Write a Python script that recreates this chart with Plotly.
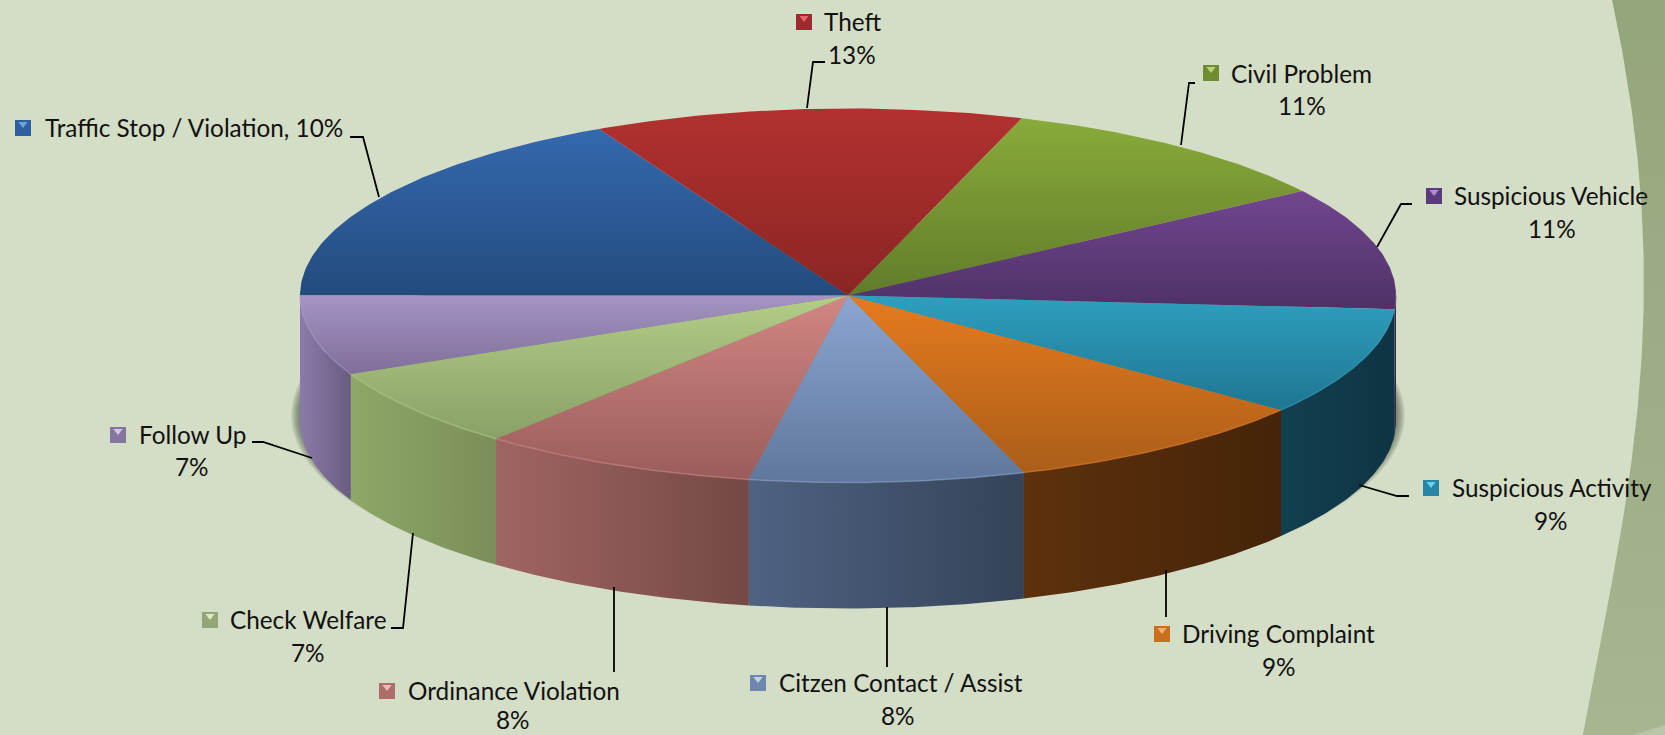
import numpy as np
import plotly.graph_objects as go

# ---------- data ----------
CATEGORIES = ["Traffic Stop / Violation", "Theft", "Civil Problem", "Suspicious Vehicle",
              "Suspicious Activity", "Driving Complaint", "Citzen Contact / Assist",
              "Ordinance Violation", "Check Welfare", "Follow Up"]
# slice sizes as drawn in the picture
SLICE_VALUES = [17.5, 12.64, 10.42, 10.61, 9.33, 9.3, 8.1, 8.2, 7.0, 6.9]
# percentages as printed on the labels
PERCENT_LABELS = ["10%", "13%", "11%", "11%", "9%", "9%", "8%", "8%", "7%", "7%"]

# ---------- styles ----------
TOP_COLORS = [("#3469AE", "#234B7E"), ("#B23130", "#8A2524"), ("#89AB3A", "#617C2A"),
              ("#72468F", "#4E3167"), ("#2F9FBF", "#1E7692"), ("#E57B1E", "#AB5E19"),
              ("#8CA6D2", "#5F779D"), ("#D28683", "#9A5D5B"), ("#B3CD87", "#8AA067"),
              ("#A594C4", "#7F6F99")]
SIDE_COLORS = [("#234B7E", "#1A3A62"), ("#8A2524", "#6A1C1B"), ("#617C2A", "#4A5F20"),
               ("#3F2654", "#3A234F"), ("#133F50", "#0F3443"), ("#5E310D", "#442409"),
               ("#4F6282", "#354358"), ("#A06562", "#744846"), ("#8FA768", "#7A8F58"),
               ("#8C7BA9", "#695C81")]
KEY_COLORS = [("#6FA3DC", "#2F5F9F"), ("#E8666A", "#9A2C2E"), ("#BBD472", "#708C33"),
              ("#B58AD4", "#5A3C7C"), ("#6DD2EC", "#2785A6"), ("#FBB060", "#C9701C"),
              ("#C2D2EA", "#6F87B0"), ("#EDB9B7", "#B06C6A"), ("#DEE9BC", "#94A577"),
              ("#D2C6E4", "#85769F")]
BG = "#D4DDC5"
BAND = ("#95A57B", "#A7B591")
BAND_CORNER = "#B9C5A6"
TEXT = "#111111"
FONT = "Lato"
FS = 24.3

# ---------- layout (pixels of the 1665x735 page) ----------
CX, CY, RX, RY, DEPTH = 848, 295.5, 548, 187, 126
KEY_POS = [(23, 128), (804, 22), (1211, 73), (1434, 196), (1431, 488),
           (1162, 634), (758, 683), (387, 691), (210, 620), (118, 435)]
NAME_POS = [(43, 127.5), (822, 21), (1229, 73.5), (1452, 195.5), (1450, 487.5),
            (1180, 633.5), (777, 682.5), (406, 690), (228, 619.5), (137, 434.5)]
PCT_POS = [None, (852, 54.5), (1302, 105.5), (1552, 228.5), (1551, 520.5),
           (1279, 666.5), (898, 715.5), (513, 719), (308, 652.5), (192, 466.5)]
LEADERS = [[(350, 137), (363, 137), (379, 197)],
           [(825, 62), (813, 62), (807, 108)],
           [(1181, 145), (1189, 83), (1195, 83)],
           [(1412, 204), (1401, 204), (1377, 247)],
           [(1409, 496), (1397, 496), (1359, 485)],
           [(1166, 570), (1166, 617)],
           [(887, 607), (887, 667)],
           [(614, 587), (614, 672)],
           [(391, 628), (403, 628), (413, 533)],
           [(252, 442), (263, 442), (312, 458)]]
BAND_EDGE_X = [1612, 1625, 1634, 1641, 1644, 1643, 1638, 1630, 1619, 1606, 1593, 1583]
BAND_EDGE_Y = [0, 65, 130, 200, 260, 330, 400, 470, 550, 610, 680, 735]
CORNER_X = [1633, 1665, 1665]
CORNER_Y = [735, 725, 735]


def ex(t):
    return CX + RX * np.cos(np.radians(t))


def ey(t, drop=0.0):
    return CY - RY * np.sin(np.radians(t)) + drop


fig = go.Figure()


def poly(xs, ys, color=None, grad=None, orient="vertical"):
    kw = dict(x=list(xs), y=list(ys), mode="lines", line=dict(width=0), fill="toself",
              hoverinfo="skip", showlegend=False)
    if grad:
        kw["fillgradient"] = dict(type=orient, colorscale=[[0, grad[0]], [1, grad[1]]])
    else:
        kw["fillcolor"] = color
    fig.add_trace(go.Scatter(**kw))


# right-hand background band: smooth the edge between the read points
be_y = np.linspace(0, 735, 148)
be_x = np.polyval(np.polyfit(BAND_EDGE_Y, BAND_EDGE_X, 4), be_y)
poly(np.r_[be_x, 1665, 1665], np.r_[be_y, 735, 0], grad=BAND[::-1])
poly(CORNER_X, CORNER_Y, color=BAND_CORNER)

# soft shadow under the disc
full = np.linspace(0, 360, 240)
for k in range(8):
    grow = 9 - k * 1.1
    poly(CX + (RX + grow) * np.cos(np.radians(full)),
         CY + DEPTH - 6 + (RY + grow * 0.5) * np.sin(np.radians(full)),
         color="rgba(60,65,50,0.09)")

# angles from values: clockwise from 9 o'clock
total = sum(SLICE_VALUES)
edges = 180 - 360 * np.cumsum([0] + SLICE_VALUES) / total

# side walls
for i in range(len(SLICE_VALUES)):
    a, b = min(edges[i], 0), max(edges[i + 1], -180)
    if a <= b:
        continue
    t = np.linspace(a, b, 60)
    poly(np.r_[ex(t), ex(t[::-1])], np.r_[ey(t), ey(t[::-1], DEPTH)], grad=SIDE_COLORS[i],
         orient="horizontal")

# top face
for i in range(len(SLICE_VALUES)):
    t = np.linspace(edges[i], edges[i + 1], 80)
    poly(np.r_[CX, ex(t), CX], np.r_[CY, ey(t), CY], grad=TOP_COLORS[i][::-1], orient="vertical")

# bevel highlight along the front rim
for i in range(len(SLICE_VALUES)):
    a, b = min(edges[i], 0), max(edges[i + 1], -180)
    if a <= b:
        continue
    t = np.linspace(a, b, 60)
    fig.add_trace(go.Scatter(x=ex(t), y=ey(t), mode="lines", hoverinfo="skip", showlegend=False,
                             line=dict(color=TOP_COLORS[i][0], width=1.5), opacity=0.55))

# leader lines
for pts in LEADERS:
    fig.add_trace(go.Scatter(x=[p[0] for p in pts], y=[p[1] for p in pts], mode="lines",
                             hoverinfo="skip", showlegend=False,
                             line=dict(color="#000000", width=1.8)))

# legend keys
for i, (kx, ky) in enumerate(KEY_POS):
    fig.add_trace(go.Scatter(x=[kx], y=[ky], mode="markers", hoverinfo="skip", showlegend=False,
                             marker=dict(symbol="square", size=16, color=KEY_COLORS[i][1],
                                         line=dict(width=0))))
    fig.add_trace(go.Scatter(x=[kx], y=[ky - 4], mode="markers", hoverinfo="skip", showlegend=False,
                             marker=dict(symbol="triangle-down", size=8, color=KEY_COLORS[i][0],
                                         line=dict(width=0))))

# labels
ann = []
for i, name in enumerate(CATEGORIES):
    label = name if PCT_POS[i] else f"{name}, {PERCENT_LABELS[i]}"
    ann.append(dict(x=NAME_POS[i][0], y=NAME_POS[i][1], text=label, xanchor="left", yanchor="middle",
                    showarrow=False, font=dict(family=FONT, size=FS, color=TEXT)))
    if PCT_POS[i]:
        ann.append(dict(x=PCT_POS[i][0], y=PCT_POS[i][1], text=PERCENT_LABELS[i], xanchor="center",
                        yanchor="middle", showarrow=False, font=dict(family=FONT, size=FS, color=TEXT)))

fig.update_layout(width=1665, height=735, margin=dict(l=0, r=0, t=0, b=0),
                  paper_bgcolor=BG, plot_bgcolor=BG, showlegend=False, annotations=ann,
                  xaxis=dict(range=[0, 1665], visible=False, fixedrange=True),
                  yaxis=dict(range=[735, 0], visible=False, fixedrange=True))

fig.write_html("out.html", config={"displayModeBar": False},
               post_script="document.body.style.margin='0';document.body.style.overflow='hidden';")
